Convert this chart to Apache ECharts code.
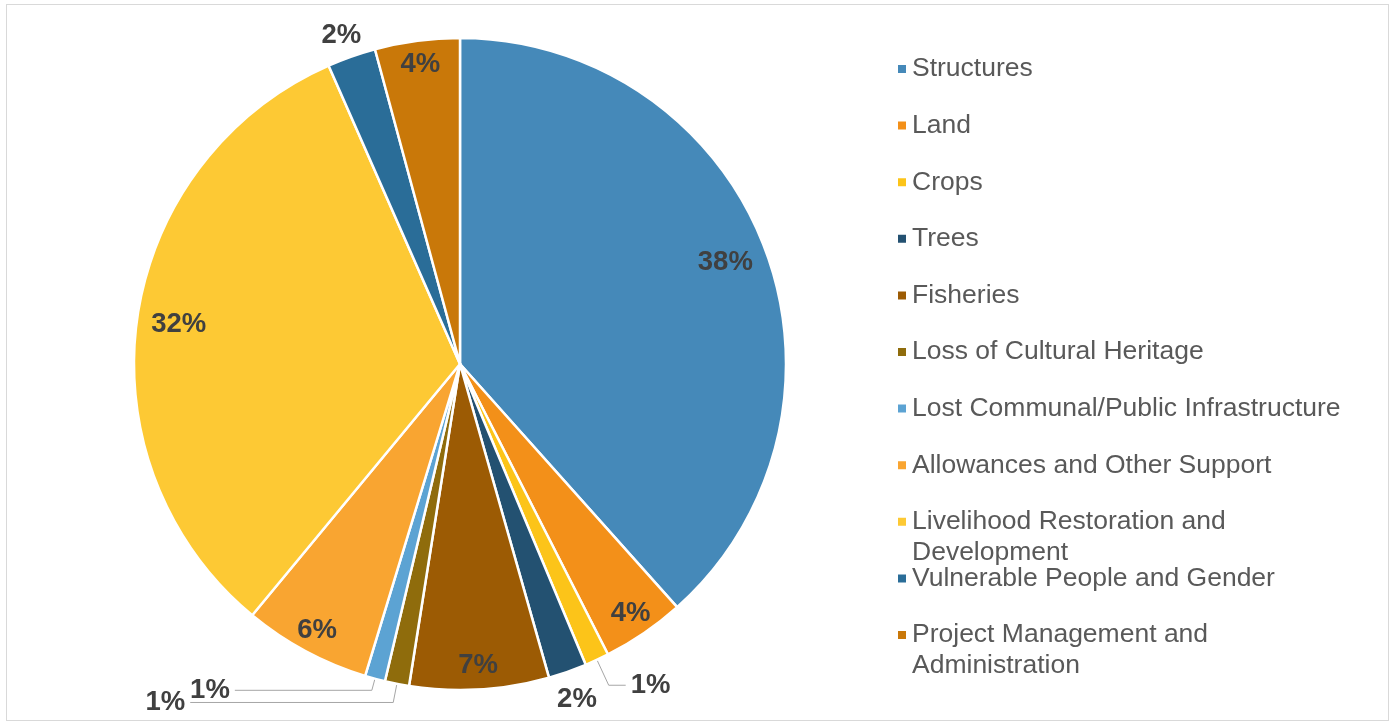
<!DOCTYPE html>
<html>
<head>
<meta charset="utf-8">
<script src="https://cdn.jsdelivr.net/npm/echarts@6/dist/echarts.min.js"></script>
<style>
  html, body { margin: 0; padding: 0; background: #ffffff; }
  #frame { position: absolute; left: 6px; top: 4px; width: 1381px; height: 715px; border: 1px solid #d9d9d9; background: #ffffff; }
  #chart { width: 100%; height: 100%; }
</style>
</head>
<body>
<div id="frame"><div id="chart"></div></div>
<script>
// Cost categories, clockwise from 12 o'clock
const categories = [
  'Structures',
  'Land',
  'Crops',
  'Trees',
  'Fisheries',
  'Loss of Cultural Heritage',
  'Lost Communal/Public Infrastructure',
  'Allowances and Other Support',
  'Livelihood Restoration and Development',
  'Vulnerable People and Gender',
  'Project Management and Administration'
];

// Share of total budget (%)
const shares = [38.4, 4.1, 1.2, 1.9, 6.9, 1.2, 1.0, 6.3, 32.4, 2.4, 4.2];

const sliceColors = [
  '#4589b9', '#f39019', '#fcc419', '#235171', '#9c5b04', '#8f6c0c',
  '#5ca3d3', '#f9a531', '#fdc934', '#2a6d98', '#c97809'
];

// ---- presentation settings ----
const FONT = '"Liberation Sans", Arial, Helvetica, sans-serif';
const CENTER = [453, 359];
const R = 326;

const labelText = {
  fontFamily: FONT, fontSize: 27.5, fontWeight: 'bold', color: '#404040'
};

// small slices: label outside the pie, optionally with a leader line
const outsidePlacement = {
  'Crops': { length: 28, length2: 17, line: true },
  'Trees': { length: 29, length2: -25, line: false },
  'Loss of Cultural Heritage': { length: 19, length2: 203, line: true },
  'Lost Communal/Public Infrastructure': { length: 12, length2: 137, line: true },
  'Vulnerable People and Gender': { length: 22, length2: -22, line: false }
};
// larger slices: label inside, near the rim
const wideRingLabels = ['Structures', 'Livelihood Restoration and Development'];
const narrowRingLabels = ['Land', 'Fisheries', 'Allowances and Other Support', 'Project Management and Administration'];

const pctLabel = p => Math.round(p.percent) + '%';

const mainData = categories.map((name, i) => {
  const item = { name: name, value: shares[i], itemStyle: { color: sliceColors[i] } };
  const o = outsidePlacement[name];
  if (o) {
    item.label = { show: true };
    item.labelLine = { show: o.line, length: o.length, length2: o.length2 };
  }
  return item;
});

function ringData(shownNames) {
  return categories.map((name, i) => ({
    name: name,
    value: shares[i],
    label: { show: shownNames.indexOf(name) >= 0 }
  }));
}

function ringSeries(inner, shownNames) {
  return {
    type: 'pie',
    center: CENTER,
    radius: [inner, R],
    startAngle: 90,
    silent: true,
    legendHoverLink: false,
    avoidLabelOverlap: false,
    itemStyle: { color: 'rgba(0,0,0,0)', borderWidth: 0 },
    label: Object.assign({ position: 'inside', formatter: pctLabel }, labelText),
    labelLine: { show: false },
    emphasis: { disabled: true },
    data: ringData(shownNames),
    z: 3
  };
}

// ---- legend: fixed row pitch; long names wrap before their last word ----
const LEGEND_TOP = 49;
const LEGEND_PITCH = 56.6;
const wraps = name => name.length > 36;

function legendText(name) {
  if (wraps(name)) {
    const cut = name.lastIndexOf(' ');
    return '{first|' + name.slice(0, cut) + '}\n{rest|' + name.slice(cut + 1) + '}';
  }
  return name;
}

// a wrapped entry closes its block so the rows after it keep the same pitch
const legendBlocks = [];
let blockStart = 0;
categories.forEach((name, i) => {
  if (wraps(name) || i === categories.length - 1) {
    legendBlocks.push({ start: blockStart, names: categories.slice(blockStart, i + 1) });
    blockStart = i + 1;
  }
});

const legendTextStyle = {
  fontFamily: FONT,
  fontSize: 26.5,
  color: '#595959',
  lineHeight: 30,
  rich: {
    first: { fontFamily: FONT, fontSize: 26.5, color: '#595959', lineHeight: 30 },
    rest: { fontFamily: FONT, fontSize: 26.5, color: '#595959', lineHeight: 0, padding: [31, 0, 0, 0] }
  }
};

const legends = legendBlocks.map(b => ({
  orient: 'vertical',
  left: 889,
  top: LEGEND_TOP + b.start * LEGEND_PITCH,
  padding: 0,
  icon: 'rect',
  itemWidth: 10,
  itemHeight: 10,
  itemGap: LEGEND_PITCH - 30,
  selectedMode: false,
  data: b.names,
  formatter: legendText,
  textStyle: legendTextStyle
}));

const chart = echarts.init(document.getElementById('chart'), null, { renderer: 'canvas' });

chart.setOption({
  animation: false,
  backgroundColor: '#ffffff',
  color: sliceColors,
  legend: legends,
  series: [
    {
      type: 'pie',
      center: CENTER,
      radius: R,
      startAngle: 90,
      clockwise: true,
      avoidLabelOverlap: false,
      itemStyle: { borderColor: '#ffffff', borderWidth: 2.5 },
      label: Object.assign({ show: false, position: 'outside', formatter: pctLabel, distanceToLabelLine: 5 }, labelText),
      labelLine: { lineStyle: { color: '#a6a6a6', width: 1 }, smooth: false },
      emphasis: { scale: false },
      data: mainData,
      z: 2
    },
    ringSeries(236, wideRingLabels),
    ringSeries(272, narrowRingLabels)
  ]
});
</script>
</body>
</html>
